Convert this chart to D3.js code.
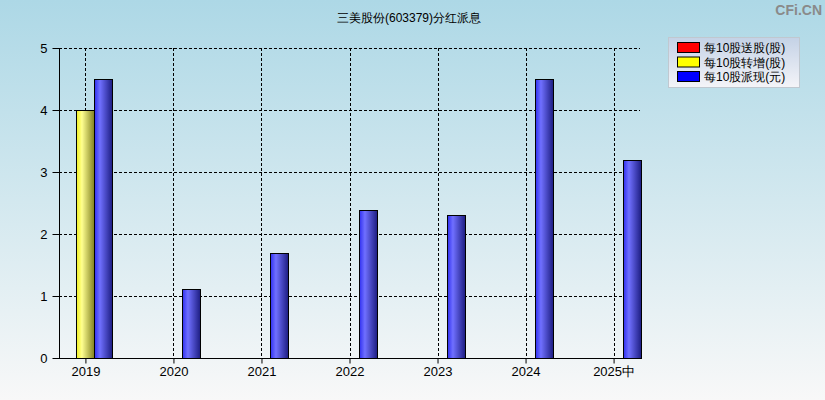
<!DOCTYPE html>
<html><head><meta charset="utf-8">
<script src="https://cdn.jsdelivr.net/npm/d3@7"></script>
<style>body{margin:0;}svg{display:block;}</style>
</head><body>
<script>
const categories = ["2019","2020","2021","2022","2023","2024","2025中"];
const songGu = [0,0,0,0,0,0,0];
const zhuanZeng = [4,0,0,0,0,0,0];
const paiXian = [4.5,1.11,1.7,2.38,2.3,4.5,3.2];
const seriesNames = ["每10股送股(股)","每10股转增(股)","每10股派现(元)"];
const yTicks = [0,1,2,3,4,5];
const title = "三美股份(603379)分红派息";

const W = 825, H = 400;
const m = {left:59, right:640, top:48, bottom:358};
const font = "'Liberation Sans', Arial, sans-serif";

const svg = d3.select("body").append("svg").attr("width",W).attr("height",H);
const defs = svg.append("defs");
const bg = defs.append("linearGradient").attr("id","bg").attr("x1",0).attr("y1",0).attr("x2",0).attr("y2",1);
bg.append("stop").attr("offset","0%").attr("stop-color","#add8e6");
bg.append("stop").attr("offset","100%").attr("stop-color","#f8f8f8");
svg.append("rect").attr("width",W).attr("height",H).attr("fill","url(#bg)");

function barGrad(id, c1, c2, c3) {
  const g = defs.append("linearGradient").attr("id",id).attr("x1",0).attr("y1",0).attr("x2",1).attr("y2",0);
  g.append("stop").attr("offset","0%").attr("stop-color",c1);
  g.append("stop").attr("offset","30%").attr("stop-color",c2);
  g.append("stop").attr("offset","100%").attr("stop-color",c3);
}
barGrad("gRed","#e00000","#ff6060","#800000");
barGrad("gYel","#f0f020","#ffff90","#808020");
barGrad("gBlu","#3030f0","#7070ff","#1c1c80");
const fills = ["url(#gRed)","url(#gYel)","url(#gBlu)"];
const legendColors = ["#ff0000","#ffff00","#0000ff"];

const x = d3.scalePoint().domain(categories).range([m.left, m.right]).padding(0.3);
const sub = d3.scaleBand().domain([0,1,2]).range([-27,27]);
const y = d3.scaleLinear().domain([0,5]).range([m.bottom, m.top]);

// grid
const grid = svg.append("g").attr("stroke","#000").attr("stroke-dasharray","3,2").attr("stroke-width",1);
yTicks.filter(t=>t>0).forEach(t=>{
  grid.append("line").attr("x1",m.left).attr("x2",m.right)
    .attr("y1",Math.round(y(t))+0.5).attr("y2",Math.round(y(t))+0.5);
});
categories.forEach(c=>{
  grid.append("line").attr("x1",Math.round(x(c))+0.5).attr("x2",Math.round(x(c))+0.5)
    .attr("y1",m.top).attr("y2",m.bottom);
});

// bars
const series = [songGu, zhuanZeng, paiXian];
series.forEach((vals, si)=>{
  svg.append("g").selectAll("rect").data(vals.map((v,i)=>({v, c:categories[i]})).filter(d=>d.v>0))
    .join("rect")
    .attr("x", d=>Math.round(x(d.c)+sub(si))+0.5)
    .attr("width", sub.bandwidth())
    .attr("y", d=>Math.round(y(d.v))+0.5)
    .attr("height", d=>Math.round(y(0))-Math.round(y(d.v)))
    .attr("fill", fills[si]).attr("stroke","#000").attr("stroke-width",1);
});

// axes
const yAxis = svg.append("g").attr("transform",`translate(${m.left+0.5},0)`)
  .call(d3.axisLeft(y).tickValues(yTicks).tickSize(7).tickPadding(5).tickFormat(d3.format("d")));
const xAxis = svg.append("g").attr("transform",`translate(0,${m.bottom+0.5})`)
  .call(d3.axisBottom(x).tickSize(5).tickPadding(3));
[yAxis,xAxis].forEach(a=>{
  a.select(".domain").attr("stroke","#000");
  a.selectAll(".tick line").attr("stroke","#000");
  a.selectAll("text").attr("fill","#000").style("font-family",font).style("font-size","13px");
});
xAxis.select(".domain").attr("d",`M${m.left},0H${m.right}`);
yAxis.select(".domain").attr("d",`M0,${m.top}V${m.bottom}`);

// title
svg.append("text").attr("x",409).attr("y",22).attr("text-anchor","middle")
  .style("font-family",font).style("font-size","12px").attr("fill","#000").text(title);

// watermark
svg.append("text").attr("x",822).attr("y",15).attr("text-anchor","end")
  .style("font-family",font).style("font-size","14px").style("font-weight","bold")
  .attr("fill","#8a8a8a").text("CFi.CN");

// legend
const lg = defs.append("linearGradient").attr("id","lg").attr("x1",0).attr("y1",0).attr("x2",0).attr("y2",1);
lg.append("stop").attr("offset","0%").attr("stop-color","#c4d2e6");
lg.append("stop").attr("offset","100%").attr("stop-color","#f4f4f8");
const leg = svg.append("g");
leg.append("rect").attr("x",668.5).attr("y",37.5).attr("width",131).attr("height",50)
  .attr("fill","url(#lg)").attr("stroke","#c0c8d0");
seriesNames.forEach((n,i)=>{
  leg.append("rect").attr("x",677.5).attr("y",42.5+i*14.5).attr("width",22).attr("height",10)
    .attr("fill",legendColors[i]).attr("stroke","#000");
  leg.append("text").attr("x",704).attr("y",52+i*14.5)
    .style("font-family",font).style("font-size","12px").attr("fill","#000").text(n);
});
</script>
</body></html>
